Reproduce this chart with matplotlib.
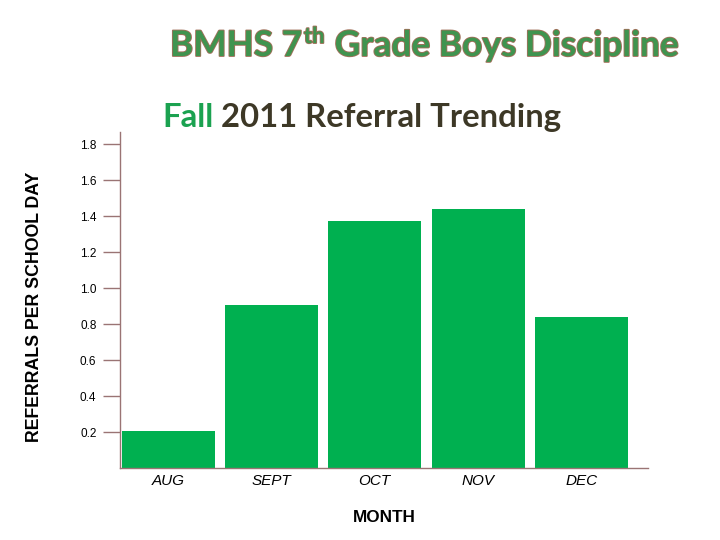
import matplotlib
matplotlib.use("Agg")
import matplotlib.pyplot as plt
import matplotlib.patheffects as pe

# data
months = ["AUG", "SEPT", "OCT", "NOV", "DEC"]
referrals = [0.205, 0.905, 1.37, 1.44, 0.84]
yticks = [0.2, 0.4, 0.6, 0.8, 1.0, 1.2, 1.4, 1.6, 1.8]

bar_green = "#00B050"
axis_brown = "#9A7474"

fig = plt.figure(figsize=(7.2, 5.4), dpi=100)
ax = fig.add_axes([120 / 720, 1 - 468 / 540, 528 / 720, 336 / 540])

x = list(range(len(months)))
ax.bar(x, referrals, width=0.9, color=bar_green, zorder=2)

ax.set_xlim(-0.465, 4.645)
ax.set_ylim(0, 1.867)
ax.set_yticks(yticks)
ax.set_yticklabels([f"{v:.1f}" for v in yticks], fontsize=8.5, family="Liberation Sans")
ax.set_xticks(x)
ax.set_xticklabels(months, fontsize=11, family="Liberation Sans", style="italic")
ax.tick_params(axis="y", length=12, width=1, color=axis_brown, pad=5)
ax.tick_params(axis="x", length=0, pad=4)

for s in ["top", "right"]:
    ax.spines[s].set_visible(False)
for s in ["left", "bottom"]:
    ax.spines[s].set_color(axis_brown)
    ax.spines[s].set_linewidth(1)

fig.text(35 / 720, 1 - 307 / 540, "REFERRALS PER SCHOOL DAY", rotation=90,
         ha="center", va="center", fontsize=12.8, fontweight="bold", family="Liberation Sans")
fig.text(384 / 720, 1 - 518 / 540, "MONTH", ha="center", va="center",
         fontsize=12.3, fontweight="bold", family="Liberation Sans")

# title with outline effect, built from pieces so the "th" can be raised
effects = [pe.withStroke(linewidth=1.3, foreground="#A0705A")]
title_kw = dict(fontsize=25.4, fontweight="bold", family="Lato", color="#3F944F",
                va="baseline", path_effects=effects)
fig.canvas.draw()
renderer = fig.canvas.get_renderer()
x0 = 170 / 720
ybase = 1 - 56 / 540
t1 = fig.text(x0, ybase, "BMHS 7", **title_kw)
w1 = t1.get_window_extent(renderer).width / 720
t2 = fig.text(x0 + w1 + 0.002, ybase + 0.024, "th", **{**title_kw, "fontsize": 16})
w2 = t2.get_window_extent(renderer).width / 720
fig.text(x0 + w1 + w2 + 0.004, ybase, " Grade Boys Discipline", **title_kw)

# subtitle in two colours
sub_kw = dict(fontsize=23.7, fontweight="bold", family="Lato", va="baseline")
s1 = fig.text(162 / 720, 1 - 127 / 540, "Fall", color="#1BA250", **sub_kw)
ws = s1.get_window_extent(renderer).width / 720
fig.text(162 / 720 + ws, 1 - 127 / 540, " 2011 Referral Trending", color="#3D3826", **sub_kw)

fig.savefig("out.png", dpi=100)
